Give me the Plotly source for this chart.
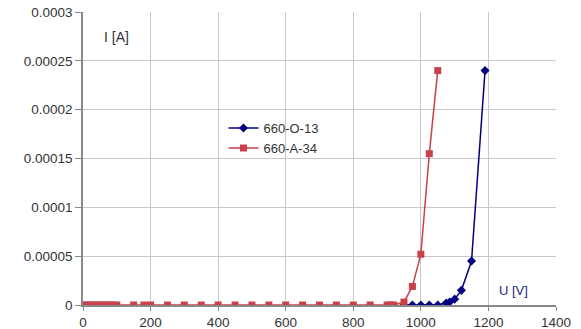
import plotly.graph_objects as go

# Data
u_blue = [950, 975, 1000, 1025, 1050, 1075, 1085, 1100, 1120, 1150, 1190]
i_blue = [0, 0, 0, 0, 0, 0.000002, 0.000003, 0.000006, 0.000015, 0.000045, 0.00024]

u_red = [0, 10, 20, 30, 40, 50, 60, 70, 80, 90, 100, 150, 180, 200,
         250, 300, 350, 400, 450, 500, 550, 600, 650, 700, 750, 800, 850,
         900, 910, 920, 950, 975, 1000, 1025, 1050]
i_red = [0] * 30 + [0.000003, 0.000019, 0.000052, 0.000155, 0.00024]

name_blue = "660-O-13"
name_red = "660-A-34"

x_ticks = [0, 200, 400, 600, 800, 1000, 1200, 1400]
y_ticks = [0, 0.00005, 0.0001, 0.00015, 0.0002, 0.00025, 0.0003]
y_labels = ["0", "0.00005", "0.0001", "0.00015", "0.0002", "0.00025", "0.0003"]

fig = go.Figure()
fig.add_trace(go.Scatter(
    x=u_blue, y=i_blue, name=name_blue, mode="lines+markers",
    line=dict(color="#000080", width=1.5),
    marker=dict(symbol="diamond", size=7, color="#000080"),
))
fig.add_trace(go.Scatter(
    x=u_red, y=i_red, name=name_red, mode="lines+markers",
    line=dict(color="#C8414B", width=1.5),
    marker=dict(symbol="square", size=7, color="#C8414B"),
))

fig.update_layout(
    width=581, height=329,
    margin=dict(l=83, r=25, t=12, b=24, autoexpand=False),
    paper_bgcolor="white", plot_bgcolor="white",
    font=dict(family="Liberation Sans, Arial, sans-serif", size=13, color="#333"),
    showlegend=True,
    legend=dict(x=0.297, y=0.655, xanchor="left", yanchor="top",
                bgcolor="rgba(0,0,0,0)", font=dict(size=13, color="#333"),
                tracegroupgap=0, itemwidth=30),
    xaxis=dict(range=[0, 1400], tickvals=x_ticks, ticktext=[str(v) for v in x_ticks],
               showgrid=True, gridcolor="#c8c8c8", gridwidth=1,
               showline=True, linecolor="#888", linewidth=1.5,
               ticks="outside", ticklen=4, tickcolor="#888", zeroline=False,
               automargin=False, tickfont=dict(size=13.5)),
    yaxis=dict(range=[0, 0.0003], tickvals=y_ticks, ticktext=y_labels,
               showgrid=True, gridcolor="#c8c8c8", gridwidth=1,
               showline=True, linecolor="#888", linewidth=1.5,
               ticks="outside", ticklen=6, tickcolor="#888", zeroline=False,
               automargin=False, tickfont=dict(size=13.5)),
    annotations=[
        dict(text="I [A]", x=0.04, y=0.915, xref="paper", yref="paper",
             xanchor="left", yanchor="middle", showarrow=False,
             font=dict(size=14, color="#333")),
        dict(text="U [V]", x=0.875, y=0.05, xref="paper", yref="paper",
             xanchor="left", yanchor="middle", showarrow=False,
             font=dict(size=13, color="#1a2a80")),
    ],
)

fig.write_html("out.html", config={"displayModeBar": False},
               post_script="document.body.style.margin='0px';")
